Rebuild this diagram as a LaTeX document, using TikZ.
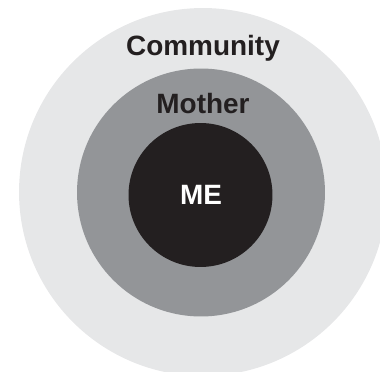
\documentclass[tikz,border=0pt]{standalone}
\usepackage{fontspec}
\setmainfont{Liberation Sans}
\usetikzlibrary{positioning}
\definecolor{ringlight}{HTML}{E6E7E8}
\definecolor{ringmid}{HTML}{939598}
\definecolor{ringdark}{HTML}{231F20}

\begin{document}
\begin{tikzpicture}[x=0.02cm, y=-0.02cm]
    \tikzstyle{ring} = [circle, draw=none, inner sep=0pt]
    \tikzstyle{label} = [anchor=base, inner sep=0pt, font=\fontsize{15.9}{19}\selectfont\bfseries]

    \useasboundingbox (0,0) rectangle (380,372);
    \clip (0,0) rectangle (380,372);

    \node [ring, fill=ringlight, minimum size=7.36cm] (community) at (203,192) {};
    \node [ring, fill=ringmid, minimum size=4.96cm] (mother) at (201,192.5) {};
    \node [ring, fill=ringdark, minimum size=2.88cm] (me) at (200.5,195) {};

    \node [label, text=ringdark] (communitytext) at (203,55) {Community};
    \node [label, text=ringdark] (mothertext) at (203,113) {Mother};
    \node [label, text=white] (metext) at (201,205) {ME};
\end{tikzpicture}
\end{document}
